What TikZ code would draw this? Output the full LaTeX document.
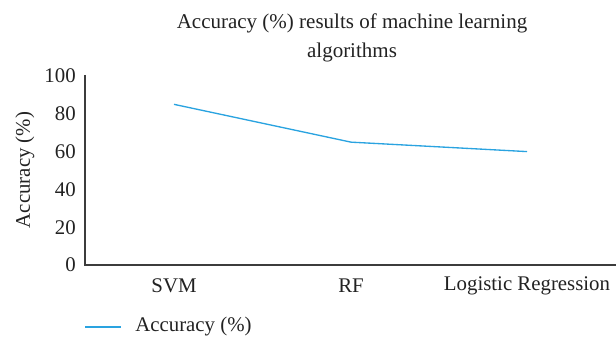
\documentclass[tikz,border=0pt]{standalone}
\usepackage{fontspec}
\setmainfont{Liberation Serif}
\usepackage{tikz}
\usetikzlibrary{positioning}
\definecolor{axisgray}{HTML}{3C3C3C}
\definecolor{series}{HTML}{2AA3E0}
\definecolor{ink}{HTML}{222222}
\tikzset{
  axisline/.style={draw=axisgray,line width=0.8pt},
  serline/.style={draw=series,line width=0.8pt},
  ticklab/.style={font=\fontsize{12.5}{14}\selectfont,text=ink,anchor=east,inner sep=0pt},
  catlab/.style={font=\fontsize{12.5}{14}\selectfont,text=ink,inner sep=0pt},
  titlelab/.style={font=\fontsize{12.6}{17.4}\selectfont,text=ink,align=center,inner sep=0pt},
}

\begin{document}
\begin{tikzpicture}[x=0.6pt,y=0.6pt]
  \useasboundingbox (0,0) rectangle (616,339);
  % axes (origin at 85/74, one percent = 1.89 units)
  \coordinate (o) at (85,74);
  \coordinate (ytop) at (85,264);
  \coordinate (xend) at (616,74);
  \draw[axisline] (ytop) -- (o) -- (xend);
  \foreach \v in {0,20,...,100}{
    \node[ticklab] (t\v) at (76,74+1.89*\v) {\v};
  }
  \node[catlab,rotate=90] (ylab) at (25,169) {Accuracy (\%)};
  % categories
  \foreach \x/\name/\lab in {174/svm/SVM,351/rf/RF,527/lr/Logistic Regression}{
    \node[catlab] (c\name) at (\x,53) {\lab};
  }
  % data
  \coordinate (p1) at (174,74+1.89*85);
  \coordinate (p2) at (351,74+1.89*65);
  \coordinate (p3) at (527,74+1.89*60);
  \draw[serline] (p1) -- (p2) -- (p3);
  % title
  \node[titlelab] (title) at (352,301) {Accuracy (\%) results of machine learning\\algorithms};
  % legend
  \coordinate (l1) at (85,12);
  \coordinate (l2) at (121,12);
  \draw[serline] (l1) -- (l2);
  \node[catlab,anchor=west,right=14 of l2] (leg) {Accuracy (\%)};
\end{tikzpicture}
\end{document}
